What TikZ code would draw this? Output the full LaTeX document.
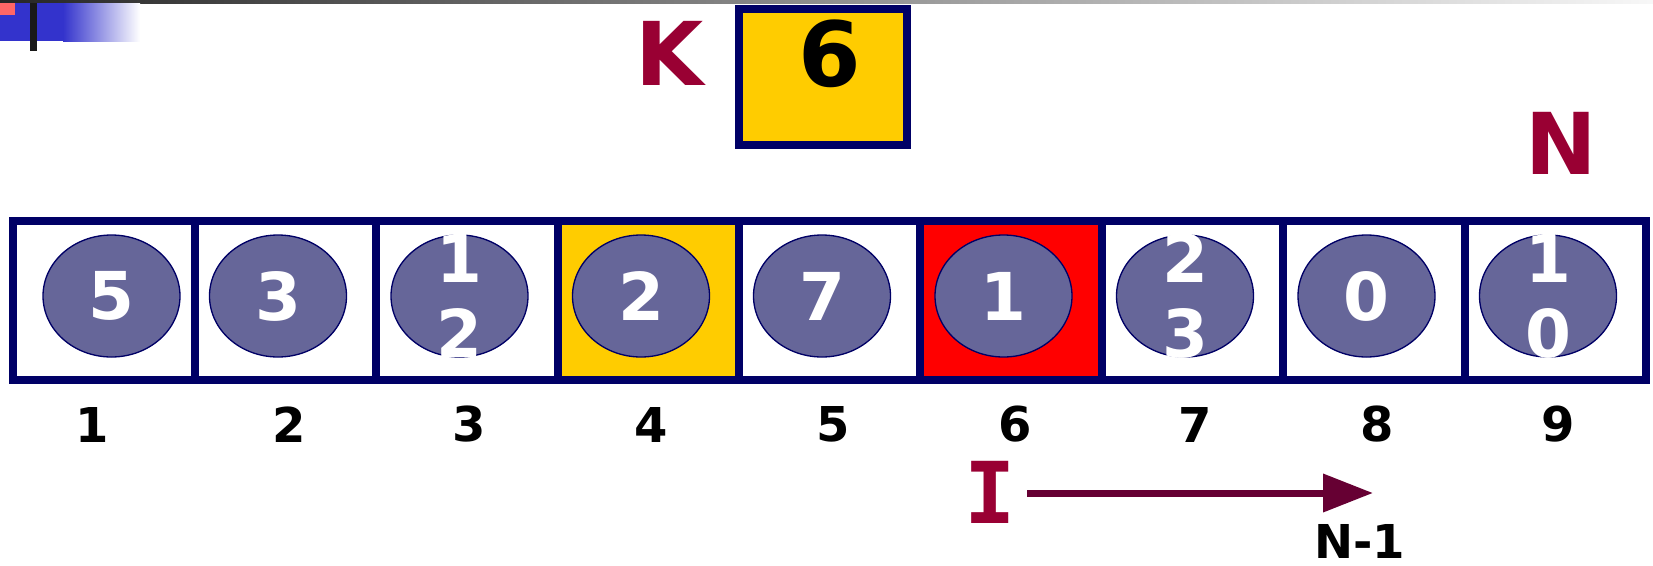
\documentclass[tikz,border=0pt]{standalone}
\usepackage{fontspec}
\setmainfont{DejaVu Sans}
\newfontfamily\slabfont{DejaVu Sans Mono}
\usepackage{tikz}
\usetikzlibrary{shapes.geometric, arrows.meta, positioning}

\definecolor{navy}{HTML}{000066}
\definecolor{slate}{HTML}{666699}
\definecolor{gold}{HTML}{FFCC00}
\definecolor{wine}{HTML}{990033}
\definecolor{plum}{HTML}{660033}
\definecolor{royal}{HTML}{3333CC}
\definecolor{salmon}{HTML}{FF6666}

\begin{document}
\begin{tikzpicture}[
    x=0.75pt, y=-0.75pt,
    font=\bfseries,
    cell/.style={rectangle, draw=navy, line width=6pt, minimum width=136.05pt, minimum height=119.25pt, inner sep=0pt, outer sep=0pt},
    val/.style={inner sep=0pt, text=white, align=center, font=\bfseries\fontsize{49.5pt}{56.25pt}\selectfont},
    ball/.style={ellipse, draw=navy, line width=1pt, fill=slate, minimum width=102.75pt, minimum height=91.5pt, inner sep=0pt, label={[val]center:#1}},
    idx/.style={inner sep=0pt, font=\bfseries\fontsize{36pt}{40pt}\selectfont},
    varname/.style={inner sep=0pt, text=wine, font=\bfseries\fontsize{66pt}{70pt}\selectfont},
    keybox/.style={rectangle, draw=navy, fill=gold, line width=6pt, minimum width=126pt, minimum height=102pt, inner sep=0pt},
    scan/.style={-{Triangle[length=37.5pt, width=27.75pt]}, draw=plum, line width=5.25pt}
]
\useasboundingbox (0,0) rectangle (1653,565);

% Slide header
\shade[left color=black!85, right color=black!3] (0,0) rectangle (1653,3);
\fill[royal] (0,3) rectangle (63,41);
\shade[left color=royal, right color=white] (63,3) rectangle (140,41);
\fill[salmon] (0,3) rectangle (15,15);
\fill[black!90] (30,3) rectangle (37,51);

% Key
\node[varname] (kname) at (669.5,53) {K};
\node[keybox] (kbox) at (823,77) {};
\node[inner sep=0pt, font=\bfseries\fontsize{67.5pt}{70pt}\selectfont] (kval) at (830,54) {6};
\node[varname, font=\bfseries\fontsize{64pt}{70pt}\selectfont] (nname) at (1561,143) {N};

% Array cells
\node[cell] (c1) at (104,300.5) {};
\node[cell, right=0pt of c1] (c2) {};
\node[cell, right=0pt of c2] (c3) {};
\node[cell, fill=gold, right=0pt of c3] (c4) {};
\node[cell, right=0pt of c4] (c5) {};
\node[cell, fill=red, right=0pt of c5] (c6) {};
\node[cell, right=0pt of c6] (c7) {};
\node[cell, right=0pt of c7] (c8) {};
\node[cell, right=0pt of c8] (c9) {};

% Values
\node[ball=5] (b1) at (111.5,296) {};
\node[ball=3] (b2) at (278,296) {};
\node[ball={1\\2}] (b3) at (459.5,296) {};
\node[ball=2] (b4) at (641,296) {};
\node[ball=7] (b5) at (822,296) {};
\node[ball=1] (b6) at (1003.5,296) {};
\node[ball={2\\3}] (b7) at (1185,296) {};
\node[ball=0] (b8) at (1366.5,296) {};
\node[ball={1\\0}] (b9) at (1548,296) {};

% Indices
\node[idx] (i1) at (92,424.5) {1};
\node[idx] (i2) at (289.5,424.5) {2};
\node[idx] (i3) at (469.5,424.5) {3};
\node[idx] (i4) at (651,424.5) {4};
\node[idx] (i5) at (833,424.5) {5};
\node[idx] (i6) at (1015,424.5) {6};
\node[idx] (i7) at (1195,424.5) {7};
\node[idx] (i8) at (1377,424.5) {8};
\node[idx] (i9) at (1558.5,424.5) {9};

% Scan from I to N-1
\node[varname, font=\slabfont\bfseries\fontsize{64pt}{70pt}\selectfont] (iname) at (990,492) {I};
\coordinate (scanfrom) at (1027,493);
\coordinate (scanto) at (1373,493);
\draw[scan] (scanfrom) -- (scanto);
\node[idx, font=\bfseries\fontsize{35pt}{40pt}\selectfont] (nlast) at (1360,541) {N-1};

\end{tikzpicture}
\end{document}
